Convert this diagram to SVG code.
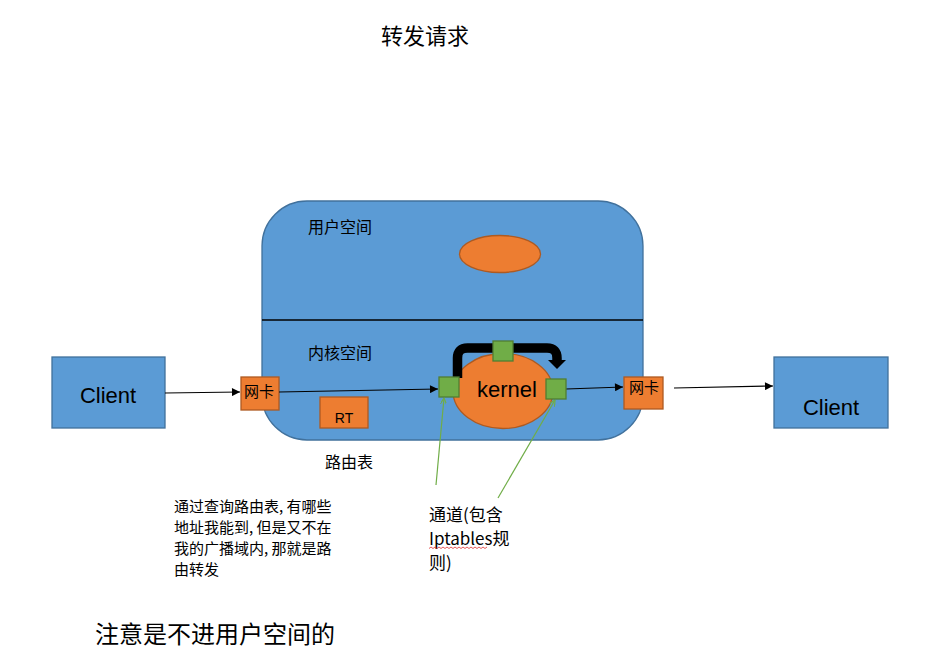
<svg xmlns="http://www.w3.org/2000/svg" width="935" height="670" viewBox="0 0 935 670">
<defs>
<style>
.blue{fill:#5B9BD5;stroke:#41719C;stroke-width:1.3}
.orange{fill:#ED7D31;stroke:#AE5A21;stroke-width:1.3}
.green{fill:#70AD47;stroke:#507E32;stroke-width:1.3}
.cjk{font-family:"Noto Sans CJK SC","Noto Sans",sans-serif;fill:#000}
.lat{font-family:"Liberation Sans","Noto Sans",sans-serif;fill:#000}
.conn{stroke:#000;stroke-width:1.2;fill:none}
.gconn{stroke:#70AD47;stroke-width:1.2;fill:none}
</style>
<marker id="ah" viewBox="0 0 10 10" refX="10" refY="5" markerWidth="10" markerHeight="8" markerUnits="userSpaceOnUse" orient="auto">
<path d="M0,0 L10,5 L0,10 z" fill="#000"/>
</marker>
<marker id="gah" viewBox="0 0 10 10" refX="10" refY="5" markerWidth="7" markerHeight="6" markerUnits="userSpaceOnUse" orient="auto">
<path d="M0,0 L10,5 L0,10" fill="none" stroke="#70AD47" stroke-width="2"/>
</marker>
</defs>
<rect width="935" height="670" fill="#fff"/>

<text class="cjk" x="381" y="44" font-size="22">转发请求</text>

<g id="host">
<rect class="blue" x="262" y="201" width="381" height="239" rx="45" ry="45"/>
<line x1="262" y1="320" x2="643" y2="320" stroke="#000" stroke-width="1.3"/>
<text class="cjk" x="308" y="233" font-size="16">用户空间</text>
<text class="cjk" x="308" y="359" font-size="16">内核空间</text>
</g>

<g id="user-process">
<ellipse class="orange" cx="500" cy="254" rx="40.5" ry="18.5"/>
</g>

<g id="kernel">
<ellipse class="orange" cx="503" cy="391" rx="50" ry="37.5"/>
<text class="lat" x="507" y="397" font-size="22" text-anchor="middle">kernel</text>
</g>

<g id="rt">
<rect class="orange" x="320" y="397" width="48" height="31"/>
<text class="lat" x="344" y="423" font-size="14" text-anchor="middle">RT</text>
</g>

<g id="client-left">
<rect class="blue" x="52" y="357" width="113" height="71"/>
<text class="lat" x="108" y="403" font-size="22" text-anchor="middle">Client</text>
</g>

<g id="nic-left">
<rect class="orange" x="241" y="377" width="38" height="33"/>
<text class="cjk" x="244" y="397" font-size="15">网卡</text>
</g>

<g id="nic-right">
<rect class="orange" x="624" y="377" width="39" height="32"/>
<text class="cjk" x="629" y="393" font-size="15">网卡</text>
</g>

<g id="client-right">
<rect class="blue" x="774" y="357" width="114" height="71"/>
<text class="lat" x="831" y="415" font-size="22" text-anchor="middle">Client</text>
</g>

<g id="connectors">
<path d="M457.5,378 V358 Q457.5,348 467.5,348 H547 Q557,348 557,358 V361" fill="none" stroke="#000" stroke-width="9.5"/>
<path d="M548,360 L566,360 L557,369 z" fill="#000"/>
<line class="conn" x1="165" y1="393" x2="240" y2="392" marker-end="url(#ah)"/>
<line class="conn" x1="279" y1="392" x2="438" y2="389" marker-end="url(#ah)"/>
<line class="conn" x1="566" y1="389" x2="623" y2="387" marker-end="url(#ah)"/>
<line class="conn" x1="674" y1="388" x2="773" y2="386" marker-end="url(#ah)"/>
<line class="gconn" x1="436" y1="485" x2="444" y2="398" marker-end="url(#gah)"/>
<line class="gconn" x1="498" y1="498" x2="555" y2="400" marker-end="url(#gah)"/>
</g>

<g id="gate-in">
<rect class="green" x="439" y="377" width="20" height="20"/>
</g>
<g id="gate-top">
<rect class="green" x="493" y="341" width="20" height="20"/>
</g>
<g id="gate-out">
<rect class="green" x="546" y="379" width="20" height="20"/>
</g>

<text class="cjk" x="325" y="468" font-size="16">路由表</text>

<g id="note-routing" class="cjk" font-size="15">
<text x="174" y="512">通过查询路由表, 有哪些</text>
<text x="174" y="533">地址我能到, 但是又不在</text>
<text x="174" y="554">我的广播域内, 那就是路</text>
<text x="174" y="575">由转发</text>
</g>

<g id="note-channel" class="cjk" font-size="17">
<text x="429" y="521">通道(包含</text>
<text x="429" y="545">Iptables规</text>
<text x="429" y="569">则)</text>
<path d="M429,548.5 l2,-1.5 l2,1.5 l2,-1.5 l2,1.5 l2,-1.5 l2,1.5 l2,-1.5 l2,1.5 l2,-1.5 l2,1.5 l2,-1.5 l2,1.5 l2,-1.5 l2,1.5 l2,-1.5 l2,1.5 l2,-1.5 l2,1.5 l2,-1.5 l2,1.5 l2,-1.5 l2,1.5 l2,-1.5 l2,1.5 l2,-1.5 l2,1.5 l2,-1.5 l2,1.5 l2,-1.5" fill="none" stroke="#E03030" stroke-width="0.8"/>
</g>

<text class="cjk" x="95" y="643" font-size="24">注意是不进用户空间的</text>
</svg>
